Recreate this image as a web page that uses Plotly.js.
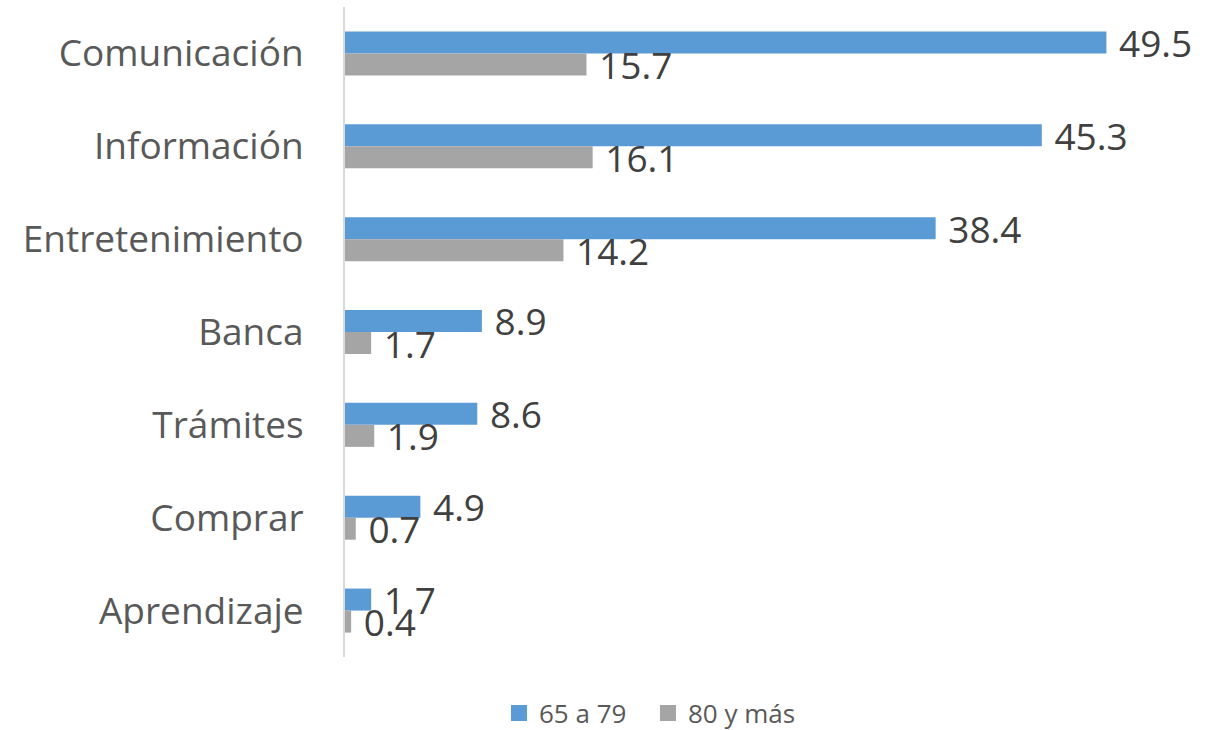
<!DOCTYPE html>
<html>
<head>
<meta charset="utf-8">
<script src="https://cdn.plot.ly/plotly-3.0.1.min.js"></script>
<style>html,body{margin:0;padding:0;background:#fff;}#chart{width:1220px;height:730px;}</style>
</head>
<body>
<div id="chart"></div>
<script>
const categories = ["Comunicación", "Información", "Entretenimiento", "Banca", "Trámites", "Comprar", "Aprendizaje"];
const seriesNames = ["65 a 79", "80 y más"];
const values65a79 = [49.5, 45.3, 38.4, 8.9, 8.6, 4.9, 1.7];
const values80mas = [15.7, 16.1, 14.2, 1.7, 1.9, 0.7, 0.4];
const seriesColors = ["#5b9bd5", "#a5a5a5"];

const labelFont = {family: "Open Sans, sans-serif", size: 37, color: "#404040"};

function barTrace(name, vals, color) {
  return {
    type: "bar",
    orientation: "h",
    name: name,
    y: categories,
    x: vals,
    marker: {color: color},
    text: vals.map(v => "\u00a0" + v.toFixed(1)),
    textposition: "outside",
    textfont: labelFont,
    constraintext: "none",
    cliponaxis: false,
    showlegend: false,
    hoverinfo: "x+y"
  };
}

function legendProxy(name, color) {
  return {
    type: "scatter",
    mode: "markers",
    name: name,
    x: [null],
    y: [null],
    marker: {symbol: "square", size: 16, color: color},
    hoverinfo: "skip"
  };
}

const data = [
  barTrace(seriesNames[0], values65a79, seriesColors[0]),
  barTrace(seriesNames[1], values80mas, seriesColors[1]),
  legendProxy(seriesNames[0], seriesColors[0]),
  legendProxy(seriesNames[1], seriesColors[1])
];

const layout = {
  width: 1220,
  height: 730,
  margin: {l: 345, r: 29, t: 7, b: 73},
  paper_bgcolor: "#ffffff",
  plot_bgcolor: "#ffffff",
  barmode: "group",
  bargap: 0.526,
  bargroupgap: 0,
  font: {family: "Open Sans, sans-serif", color: "#595959"},
  xaxis: {
    range: [0, 55],
    visible: false,
    showgrid: false,
    zeroline: false
  },
  yaxis: {
    type: "category",
    categoryorder: "array",
    categoryarray: categories,
    autorange: "reversed",
    showline: true,
    linecolor: "#d9d9d9",
    linewidth: 2,
    ticks: "",
    ticklabelstandoff: 32,
    tickfont: {family: "Open Sans, sans-serif", size: 37, color: "#595959"},
    showgrid: false,
    zeroline: false
  },
  showlegend: true,
  legend: {
    orientation: "h",
    xref: "container",
    yref: "container",
    x: 0.409,
    xanchor: "left",
    y: 0.0233,
    yanchor: "middle",
    entrywidth: 104,
    font: {family: "Open Sans, sans-serif", size: 26, color: "#595959"},
    traceorder: "normal"
  }
};

Plotly.newPlot("chart", data, layout, {displayModeBar: false, responsive: false});
</script>
</body>
</html>
